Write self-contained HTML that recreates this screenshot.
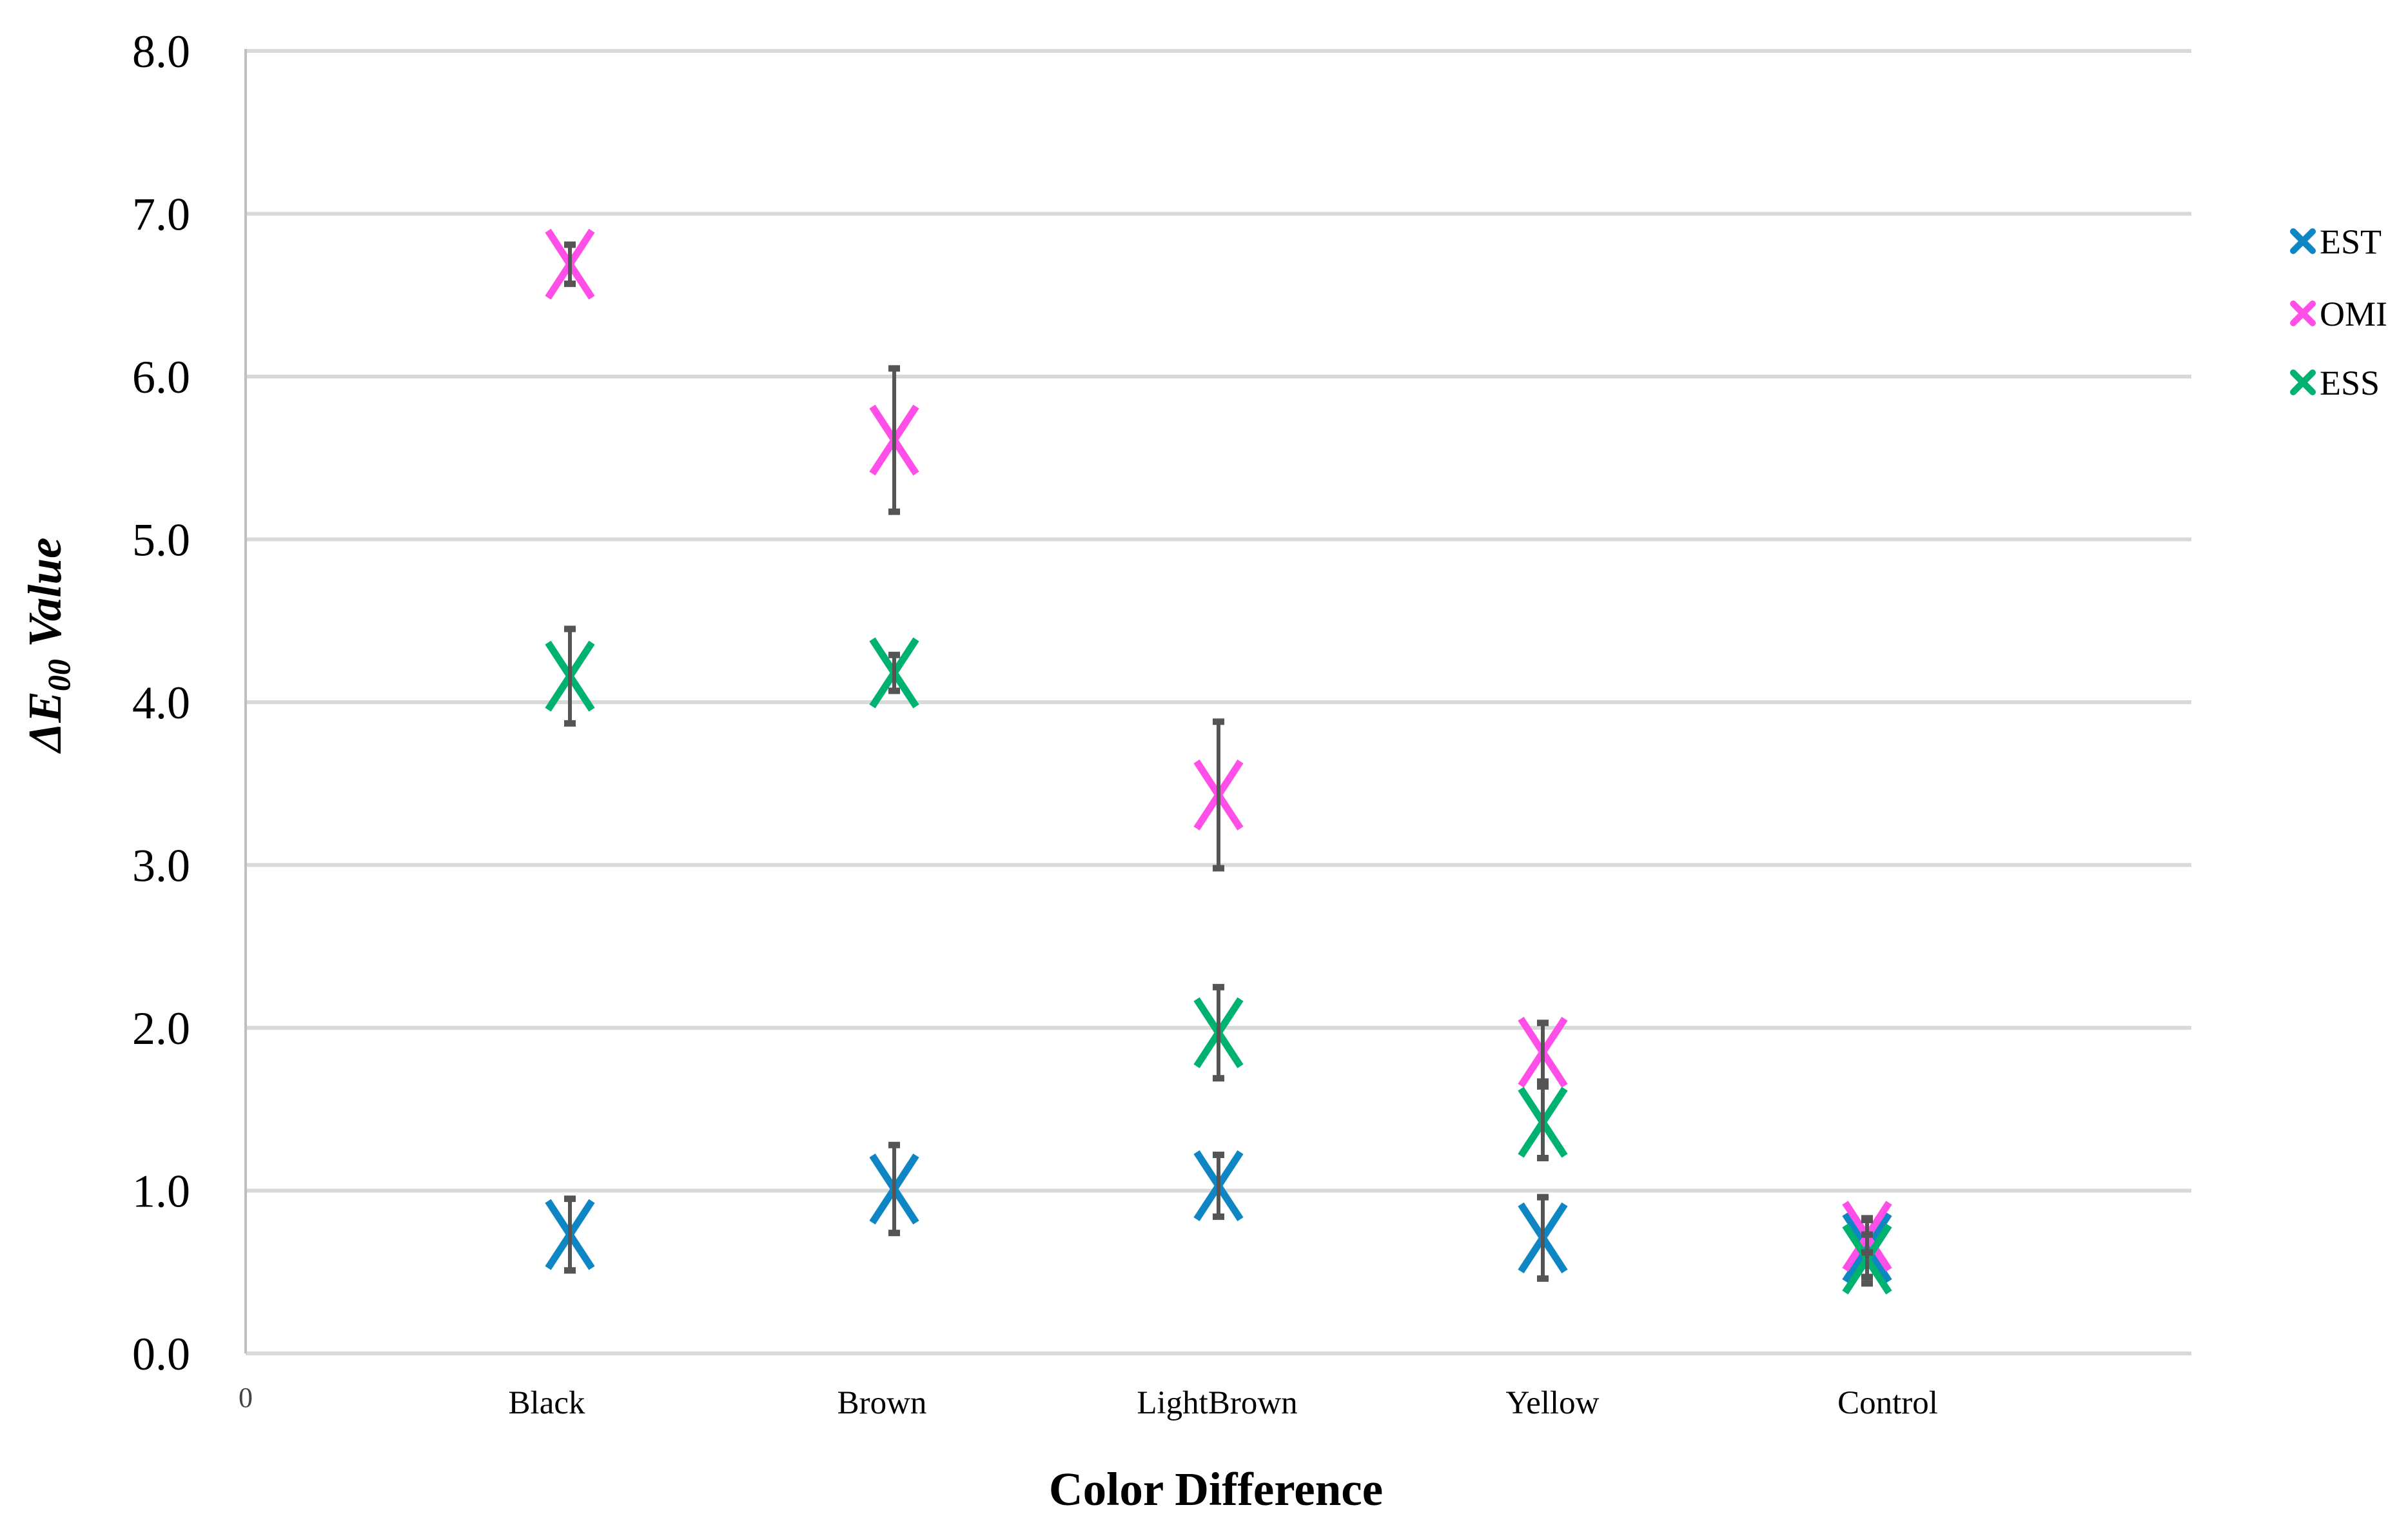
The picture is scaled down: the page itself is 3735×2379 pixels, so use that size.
<!DOCTYPE html>
<html><head><meta charset="utf-8"><style>
html,body{margin:0;padding:0;background:#fff;}
svg{display:block;font-family:"Liberation Serif",serif;}
</style></head><body>
<svg id="chart" width="3735" height="2379" viewBox="0 0 3735 2379" xmlns="http://www.w3.org/2000/svg">
<g id="grid"></g>
<g id="yticks"></g>
<g id="xticks"></g>
<g id="marks"></g>
<g id="legend"></g>
<text x="1886" y="2334" text-anchor="middle" font-size="73" font-weight="bold">Color Difference</text>
<text transform="translate(94,1000) rotate(-90)" text-anchor="middle" font-size="73" font-weight="bold" font-style="italic">ΔE<tspan font-size="50" dy="14">00</tspan><tspan dy="-14"> Value</tspan></text>
</svg>
<script>
const categories = ["Black","Brown","LightBrown","Yellow","Control"];
const seriesNames = ["EST","OMI","ESS"];
const estValues = [0.73,1.01,1.03,0.71,0.65];
const estErrors = [0.22,0.27,0.19,0.25,0.18];
const omiValues = [6.69,5.61,3.43,1.85,0.72];
const omiErrors = [0.12,0.44,0.45,0.18,0.10];
const essValues = [4.16,4.18,1.97,1.42,0.58];
const essErrors = [0.29,0.11,0.28,0.22,0.15];
const yTicks = [0,1,2,3,4,5,6,7,8];
const colors = ["#0e86c4","#ff4fe8","#00b270"];

const NS = "http://www.w3.org/2000/svg";
const X0 = 381, X1 = 3399, Y0 = 2099, Y1 = 79;
function xScale(i){ return X0 + (X1 - X0) * i / (categories.length + 1); }
function yScale(v){ return Y0 - (Y0 - Y1) * v / 8; }
function mk(tag, attrs, parent){
  const e = document.createElementNS(NS, tag);
  for (const k in attrs) e.setAttribute(k, attrs[k]);
  parent.appendChild(e);
  return e;
}
const grid = document.getElementById('grid');
const yt = document.getElementById('yticks');
yTicks.forEach(t=>{
  const l = mk('line',{x1:X0,x2:X1,y1:yScale(t),y2:yScale(t),stroke:'#d9d9d9','stroke-width':6},grid);
  
  
  const tx = mk('text',{x:295,y:yScale(t)+25,'text-anchor':'end','font-size':72},yt);
  tx.textContent = t.toFixed(1);
  
  
});
const ax = mk('line',{x1:X0,x2:X0,y1:Y1-3,y2:Y0,stroke:'#bfbfbf','stroke-width':4},grid);



const xt = document.getElementById('xticks');
const z = mk('text',{x:X0,y:2182,'text-anchor':'middle','font-size':44,fill:'#444'},xt);
z.textContent = '0';


categories.forEach((c,i)=>{
  const tx = mk('text',{x:848 + i*520,y:2192,'text-anchor':'middle','font-size':51},xt);
  tx.textContent = c;
  
  
});

const marks = document.getElementById('marks');
const allVals = [estValues, omiValues, essValues];
const allErr = [estErrors, omiErrors, essErrors];
allVals.forEach((vals,s)=>{
  vals.forEach((v,i)=>{
    const cx = xScale(i+1), cy = yScale(v), hw = 34, hh = 52;
    const g = mk('g',{stroke:colors[s],'stroke-width':11,'stroke-linecap':'butt'},marks);
    
    
    mk('line',{x1:cx-hw,y1:cy-hh,x2:cx+hw,y2:cy+hh},g);
    mk('line',{x1:cx-hw,y1:cy+hh,x2:cx+hw,y2:cy-hh},g);
  });
});
allVals.forEach((vals,s)=>{
  vals.forEach((v,i)=>{
    const cx = xScale(i+1), e = allErr[s][i];
    const g = mk('g',{stroke:'#555','stroke-width':6},marks);
    
    
    mk('line',{x1:cx,x2:cx,y1:yScale(v+e),y2:yScale(v-e)},g);
    mk('line',{x1:cx-9,x2:cx+9,y1:yScale(v+e),y2:yScale(v+e),'stroke-width':10},g);
    mk('line',{x1:cx-9,x2:cx+9,y1:yScale(v-e),y2:yScale(v-e),'stroke-width':10},g);
  });
});

const lg = document.getElementById('legend');
const legY = [374,486,593];
seriesNames.forEach((n,s)=>{
  const g = mk('g',{},lg);
  
  
  const cx = 3572, cy = legY[s], r = 15;
  mk('line',{x1:cx-r,y1:cy-r,x2:cx+r,y2:cy+r,stroke:colors[s],'stroke-width':10,'stroke-linecap':'round'},g);
  mk('line',{x1:cx-r,y1:cy+r,x2:cx+r,y2:cy-r,stroke:colors[s],'stroke-width':10,'stroke-linecap':'round'},g);
  const t = mk('text',{x:3598,y:cy+19,'font-size':54},g);
  t.textContent = n;
});
</script>
</body></html>
